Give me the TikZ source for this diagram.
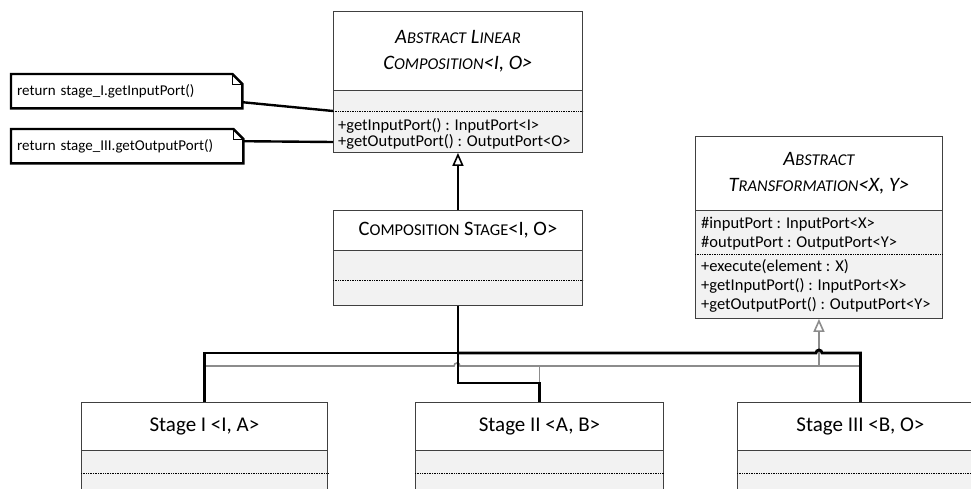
\documentclass[tikz,border=0pt]{standalone}
\usepackage{fontspec}
\setmainfont{Carlito}
\usetikzlibrary{arrows.meta,calc}
\definecolor{bodyfill}{HTML}{F2F2F2}
\definecolor{edgecol}{HTML}{404040}
\definecolor{gencol}{HTML}{8C8C8C}
% reduced capitals for the class names
\newcommand\lowcap[1]{{\fontsize{16.5}{20}\selectfont #1}}
\tikzset{
  hdr/.style={draw=edgecol, fill=white, line width=0.9pt, anchor=north west,
    inner sep=0pt, align=center, font=\fontsize{20.5}{26}\selectfont},
  stagehdr/.style={hdr, font=\fontsize{21}{26}\selectfont},
  bodybox/.style={draw=edgecol, fill=bodyfill, line width=0.9pt, anchor=north west, inner sep=0pt},
  member/.style={anchor=west, inner sep=0pt, font=\fontsize{16.5}{19}\selectfont},
  sepline/.style={densely dotted, line width=0.7pt, black},
  notebox/.style={anchor=north west, inner xsep=6pt, inner ysep=0pt, align=left,
    font=\fontsize{15}{17}\selectfont},
  noteframe/.style={line width=2.4pt, black, line join=miter},
  notefold/.style={line width=1pt, black},
  noteline/.style={line width=2.4pt, black},
  comp/.style={line width=2.8pt, black},
  gen/.style={line width=1.6pt, gencol},
  inh/.style={line width=1.8pt, black, -{Triangle[open, length=13pt, width=11pt, line width=1.6pt, fill=white]}},
  inhgray/.style={line width=1.6pt, gencol, -{Triangle[open, length=13pt, width=11pt, line width=1.6pt, fill=white]}}
}
\begin{document}
\begin{tikzpicture}[x=1pt, y=-1pt]
\clip (0,0) rectangle (971,488);
\fill[white] (0,0) rectangle (971,488);

% ---- AbstractLinearComposition
\node[hdr, minimum width=249pt, minimum height=79pt] (alc) at (333,11)
  {\itshape A\lowcap{BSTRACT} L\lowcap{INEAR}\\ \itshape C\lowcap{OMPOSITION}<I, O>};
\node[bodybox, minimum width=249pt, minimum height=62pt] (alcb) at (333,90) {};
\draw[sepline] ([yshift=-21pt]alcb.north west) -- ([yshift=-21pt]alcb.north east);
\node[member] (alcm1) at (338,126) {+getInputPort() : InputPort<I>};
\node[member] (alcm2) at (338,142) {+getOutputPort() : OutputPort<O>};

% ---- CompositionStage
\node[hdr, minimum width=249pt, minimum height=40pt] (cs) at (333,210)
  {C\lowcap{OMPOSITION} S\lowcap{TAGE}<I, O>};
\node[bodybox, minimum width=249pt, minimum height=55pt] (csb) at (333,250) {};
\draw[sepline] ([yshift=-30pt]csb.north west) -- ([yshift=-30pt]csb.north east);

% ---- AbstractTransformation
\node[hdr, minimum width=247pt, minimum height=74pt] (at) at (695,136)
  {\itshape A\lowcap{BSTRACT}\\ \itshape T\lowcap{RANSFORMATION}<X, Y>};
\node[bodybox, minimum width=247pt, minimum height=108pt] (atb) at (695,210) {};
\draw[sepline] ([yshift=-44pt]atb.north west) -- ([yshift=-44pt]atb.north east);
\node[member] (atm1) at (701,224) {\#inputPort : InputPort<X>};
\node[member] (atm2) at (701,243) {\#outputPort : OutputPort<Y>};
\node[member] (atm3) at (701,267) {+execute(element : X)};
\node[member] (atm4) at (701,286) {+getInputPort() : InputPort<X>};
\node[member] (atm5) at (701,305) {+getOutputPort() : OutputPort<Y>};

% ---- concrete stages
\node[stagehdr, minimum width=246pt, minimum height=48pt] (st1) at (81,402) {Stage I <I, A>};
\node[bodybox, minimum width=246pt, minimum height=60pt] (st1b) at (81,450) {};
\draw[sepline] ([yshift=-23pt]st1b.north west) -- ([yshift=-23pt]st1b.north east);

\node[stagehdr, minimum width=248pt, minimum height=48pt] (st2) at (415,402) {Stage II <A, B>};
\node[bodybox, minimum width=248pt, minimum height=60pt] (st2b) at (415,450) {};
\draw[sepline] ([yshift=-23pt]st2b.north west) -- ([yshift=-23pt]st2b.north east);

\node[stagehdr, minimum width=246pt, minimum height=48pt] (st3) at (737,402) {Stage III <B, O>};
\node[bodybox, minimum width=246pt, minimum height=60pt] (st3b) at (737,450) {};
\draw[sepline] ([yshift=-23pt]st3b.north west) -- ([yshift=-23pt]st3b.north east);

% ---- notes
\node[notebox, text width=219pt, minimum height=34pt] (n1) at (11,74) {return stage\_I.getInputPort()};
\node[notebox, text width=220pt, minimum height=34pt] (n2) at (11,129) {return stage\_III.getOutputPort()};
\foreach \n in {n1,n2}{
  \draw[noteframe] (\n.north west) -- ([xshift=-10pt]\n.north east) -- ([yshift=-10pt]\n.north east)
    -- (\n.south east) -- (\n.south west) -- cycle;
  \draw[notefold] ([xshift=-10pt]\n.north east) -- ([xshift=-10pt,yshift=-10pt]\n.north east)
    -- ([yshift=-10pt]\n.north east);
}
\draw[noteline] ([yshift=-11pt]n1.east) -- ([yshift=-21pt]alcb.north west);
\draw[noteline] ([yshift=5pt]n2.east) -- ([yshift=-52pt]alcb.north west);

% ---- generalisation of the stages (grey)
\coordinate (gj) at (at.south |- 0,366);
\draw[gen] (st1.north) |- (454,366) arc[start angle=180, end angle=0, radius=3pt] -- (gj);
\draw[gen] (st2.north) -- (st2.north |- gj);
\draw[gen] (st3.north) |- (gj);
\draw[inhgray] (gj) -- (atb.south);

% ---- composition links (black)
\coordinate (cj) at (cs.south |- 0,353);
\draw[comp] (csb.south) -- (csb.south |- 0,383) -| (st2.north);
\draw[comp] (st1.north) |- (cj);
\draw[comp] (cj) -- (816,353) arc[start angle=180, end angle=0, radius=3pt] -| (st3.north);

% ---- CompositionStage extends AbstractLinearComposition
\draw[inh] (cs.north) -- (alcb.south);
\end{tikzpicture}
\end{document}
